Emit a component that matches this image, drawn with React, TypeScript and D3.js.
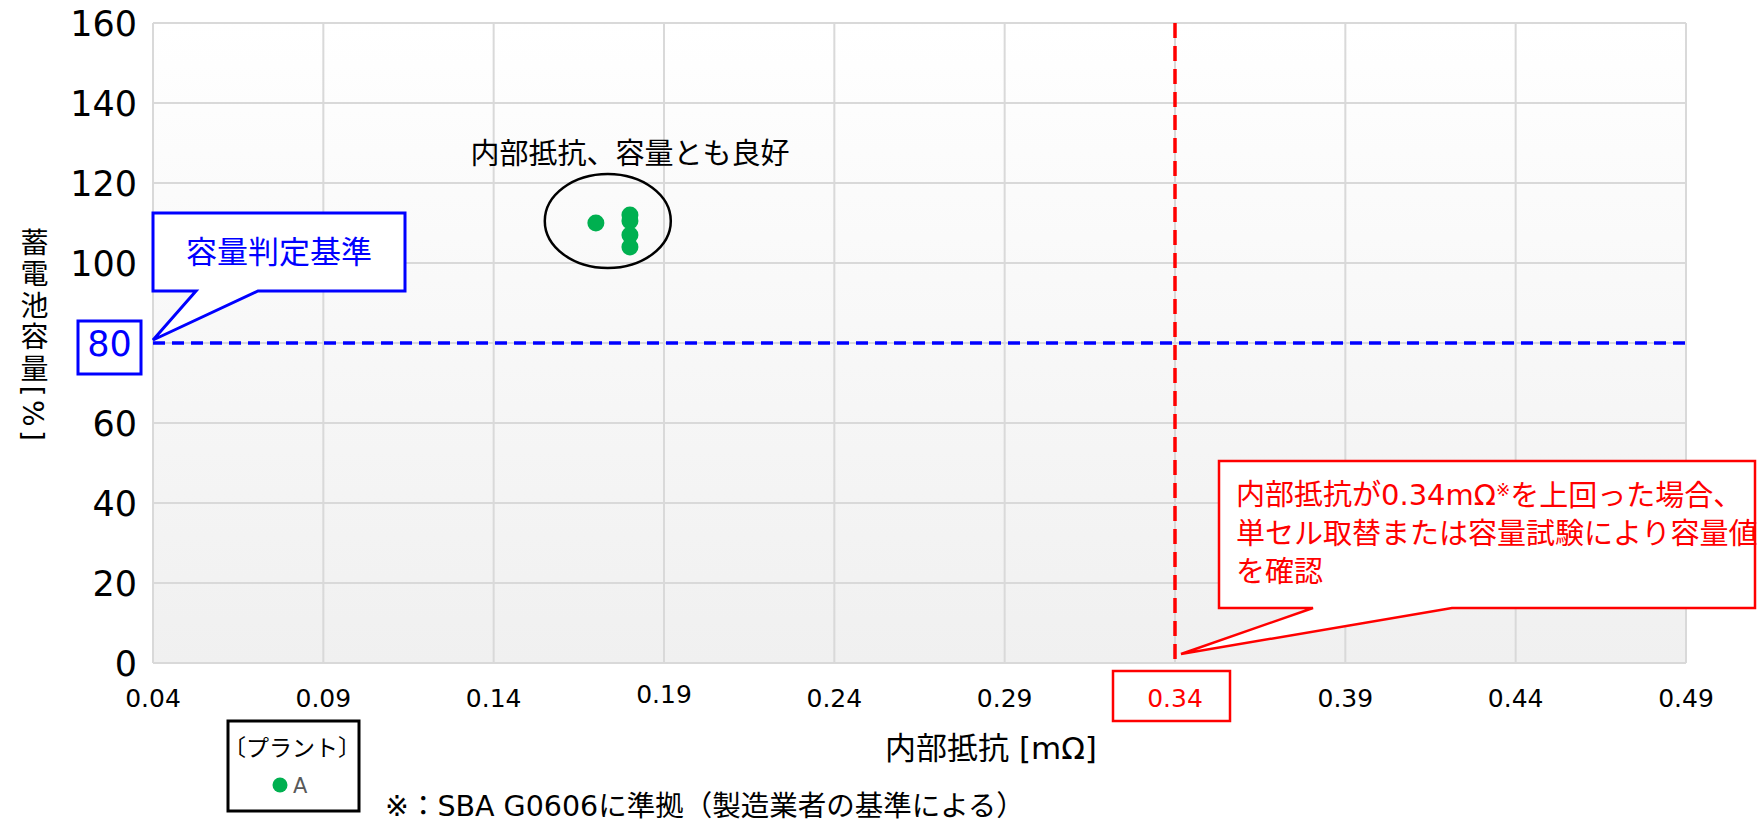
import React from 'react'
import { scaleLinear } from 'd3'

// plant A measurements
const resistance = [0.17, 0.18, 0.18, 0.18, 0.18]
const capacity = [110, 112, 110.5, 107, 104]

const xTicks = [0.04, 0.09, 0.14, 0.19, 0.24, 0.29, 0.34, 0.39, 0.44, 0.49]
const yTicks = [0, 20, 40, 60, 80, 100, 120, 140, 160]

const capacityLimit = 80
const resistanceLimit = 0.34

const WIDTH = 1764
const HEIGHT = 821
const M = { left: 153, right: 1686, top: 23, bottom: 663 }

const FONT = '"DejaVu Sans", "Noto Sans CJK JP", sans-serif'
const BLUE = '#0000ff'
const RED = '#ff0000'
const GREEN = '#00b050'

export default function App(): JSX.Element {
  const x = scaleLinear().domain([0.04, 0.49]).range([M.left, M.right])
  const y = scaleLinear().domain([0, 160]).range([M.bottom, M.top])

  const yLimit = y(capacityLimit)
  const xLimit = x(resistanceLimit)

  // blue callout box
  const bb = { x: 153, y: 213, w: 252, h: 78 }
  const bluePath = `M${bb.x},${bb.y} H${bb.x + bb.w} V${bb.y + bb.h} H${bb.x + 105} L${M.left},${yLimit - 3} L${bb.x + 43},${bb.y + bb.h} H${bb.x} Z`

  // red callout box
  const rb = { x: 1219, y: 461, w: 536, h: 147 }
  const redPath = `M${rb.x},${rb.y} H${rb.x + rb.w} V${rb.y + rb.h} H1452 L${xLimit + 6},${M.bottom - 9} L1313,${rb.y + rb.h} H${rb.x} Z`

  return (
    <svg
      width={WIDTH}
      height={HEIGHT}
      style={{ position: 'absolute', left: 0, top: 0, background: '#fff' }}
      fontFamily={FONT}
    >
      <defs>
        <linearGradient id="plotBg" x1="0" y1="0" x2="0" y2="1">
          <stop offset="0" stopColor="#ffffff" />
          <stop offset="1" stopColor="#f0f0f0" />
        </linearGradient>
      </defs>

      <rect
        x={M.left}
        y={M.top}
        width={M.right - M.left}
        height={M.bottom - M.top}
        fill="url(#plotBg)"
      />

      {/* grid */}
      <g stroke="#d9d9d9" strokeWidth={2}>
        {yTicks.map((t) => (
          <line key={'gy' + t} x1={M.left} x2={M.right} y1={y(t)} y2={y(t)} />
        ))}
        {xTicks.map((t) => (
          <line key={'gx' + t} x1={x(t)} x2={x(t)} y1={M.top} y2={M.bottom} />
        ))}
      </g>

      {/* y tick labels */}
      <g fontSize={35} textAnchor="end" fill="#000">
        {yTicks
          .filter((t) => t !== capacityLimit)
          .map((t) => (
            <text key={'ty' + t} x={137} y={y(t)} dy="0.36em">
              {t}
            </text>
          ))}
      </g>
      <rect x={78} y={321} width={63} height={53} fill="#fff" stroke={BLUE} strokeWidth={3} />
      <text x={109.5} y={yLimit} dy="0.36em" fontSize={35} textAnchor="middle" fill={BLUE}>
        {capacityLimit}
      </text>

      {/* x tick labels */}
      <g fontSize={25} textAnchor="middle" fill="#000">
        {xTicks
          .filter((t) => t !== resistanceLimit)
          .map((t) => (
            <text key={'tx' + t} x={x(t)} y={t === 0.19 ? 694 : 698} dy="0.36em">
              {t.toFixed(2)}
            </text>
          ))}
      </g>
      <rect x={1113} y={671} width={117} height={50} fill="#fff" stroke={RED} strokeWidth={2.5} />
      <text x={xLimit} y={698} dy="0.36em" fontSize={25} textAnchor="middle" fill={RED}>
        {resistanceLimit.toFixed(2)}
      </text>

      {/* axis titles */}
      <text x={991} y={748} dy="0.36em" fontSize={31} textAnchor="middle">
        内部抵抗 [mΩ]
      </text>
      <text
        x={32}
        y={228}
        fontSize={28}
        letterSpacing={3.5}
        style={{ writingMode: 'vertical-rl' }}
      >
        蓄電池容量[%]
      </text>

      {/* criterion lines */}
      <line
        x1={M.left}
        x2={M.right}
        y1={yLimit}
        y2={yLimit}
        stroke={BLUE}
        strokeWidth={3.5}
        strokeDasharray="12 7"
      />
      <line
        x1={xLimit}
        x2={xLimit}
        y1={M.top}
        y2={M.bottom}
        stroke={RED}
        strokeWidth={3.5}
        strokeDasharray="15 8"
      />

      {/* points */}
      <g fill={GREEN}>
        {resistance.map((r, i) => (
          <circle key={'p' + i} cx={x(r)} cy={y(capacity[i])} r={8.5} />
        ))}
      </g>

      {/* good cluster annotation */}
      <ellipse
        cx={x(0.1735)}
        cy={y(110.5)}
        rx={63}
        ry={47}
        fill="none"
        stroke="#000"
        strokeWidth={2.5}
      />
      <text x={630} y={154} dy="0.36em" fontSize={29} textAnchor="middle">
        内部抵抗、容量とも良好
      </text>

      {/* blue callout */}
      <path d={bluePath} fill="#fff" stroke={BLUE} strokeWidth={3} strokeLinejoin="miter" />
      <text
        x={bb.x + bb.w / 2}
        y={bb.y + bb.h / 2}
        dy="0.36em"
        fontSize={31}
        textAnchor="middle"
        fill={BLUE}
      >
        容量判定基準
      </text>

      {/* red callout */}
      <path d={redPath} fill="#fff" stroke={RED} strokeWidth={2.5} />
      <g fontSize={29} fill={RED}>
        <text x={1236} y={495} dy="0.36em">
          内部抵抗が0.34mΩ
          <tspan fontSize={17} dy="-0.55em">
            ※
          </tspan>
          <tspan dy="0.35em">を上回った場合、</tspan>
        </text>
        <text x={1236} y={534} dy="0.36em">
          単セル取替または容量試験により容量値
        </text>
        <text x={1236} y={572} dy="0.36em">
          を確認
        </text>
      </g>

      {/* legend */}
      <rect x={228} y={721} width={131} height={90} fill="#fff" stroke="#000" strokeWidth={3} />
      <text x={292} y={748} dy="0.36em" fontSize={23} textAnchor="middle">
        〔プラント〕
      </text>
      <circle cx={280} cy={785} r={7.5} fill={GREEN} />
      <text x={293} y={785} dy="0.36em" fontSize={21} fill="#595959">
        A
      </text>

      {/* footnote */}
      <text x={385} y={806} dy="0.36em" fontSize={28.5}>
        ※：SBA G0606に準拠（製造業者の基準による）
      </text>
    </svg>
  )
}
